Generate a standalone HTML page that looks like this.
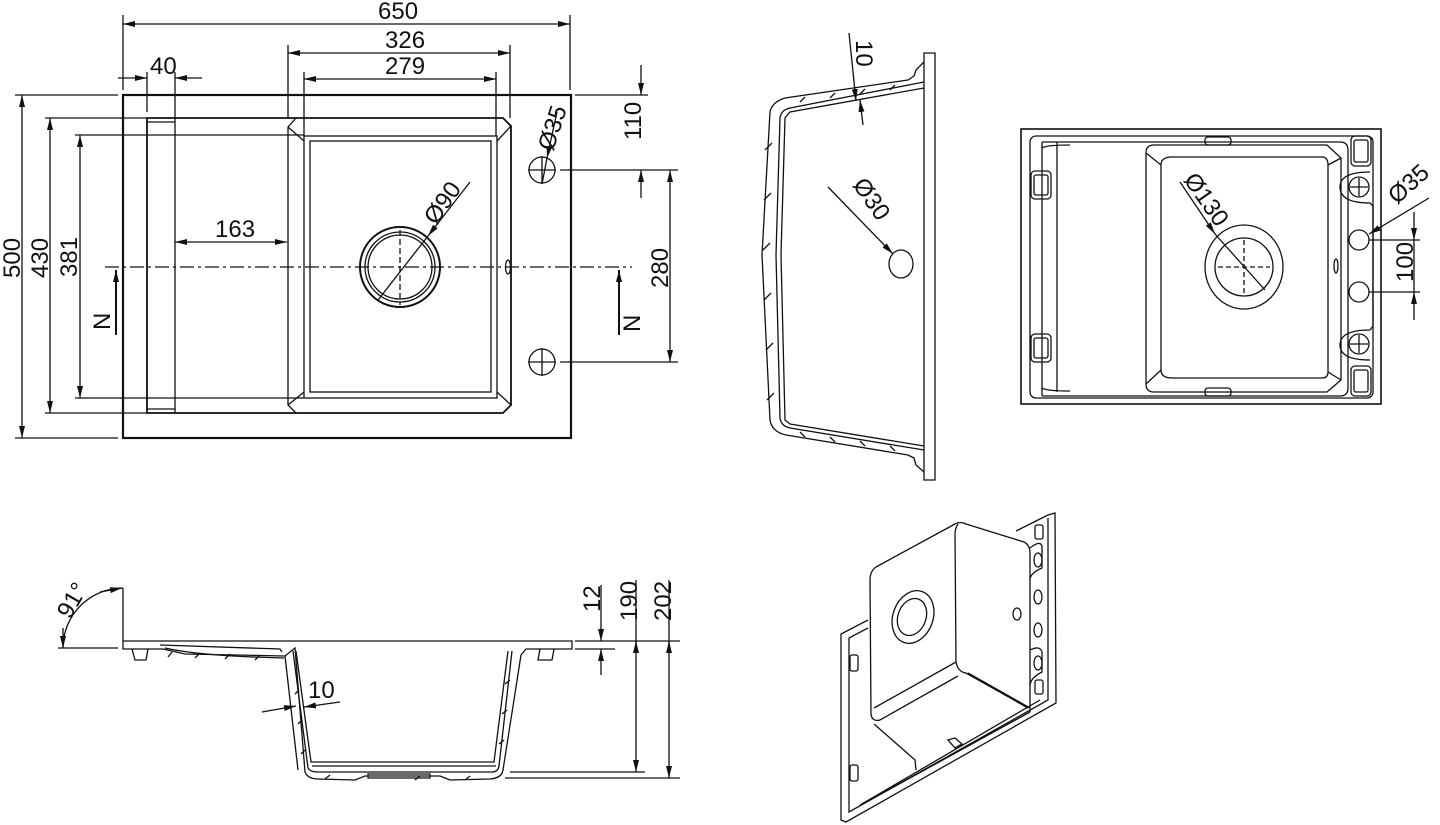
<!DOCTYPE html>
<html><head><meta charset="utf-8"><style>
html,body{margin:0;padding:0;background:#fff}
svg{display:block}
text{font-family:"Liberation Sans",Arial,sans-serif;font-size:24px;fill:#111}
</style></head><body>
<svg width="1440" height="825" viewBox="0 0 1440 825" xmlns="http://www.w3.org/2000/svg">
<defs>
<marker id="a" viewBox="0 0 12 6" refX="12" refY="3" markerWidth="12" markerHeight="6" orient="auto-start-reverse" markerUnits="userSpaceOnUse"><path d="M0,0 L12,3 L0,6 z" fill="#111"/></marker>
</defs>
<g fill="none" stroke="#111" stroke-width="1.3">
<!-- ========== TOP LEFT PLAN ========== -->
<rect x="123" y="95" width="448" height="343" stroke-width="2.2"/>
<path d="M147,118 H503 L511,126 V405 L503,413 H147 Z" stroke-width="1.8"/>
<line x1="175" y1="118" x2="175" y2="413"/>
<line x1="147" y1="122" x2="175" y2="122"/>
<line x1="147" y1="409" x2="175" y2="409"/>
<path d="M296,118 L288,127 V405 L296,413"/>
<path d="M288,127 L304,141 M503,118 L511,126 L497,141 M288,405 L304,392 M511,405 L497,392"/>
<rect x="304" y="136" width="193" height="262"/>
<rect x="310" y="141" width="181" height="251"/>
<circle cx="400" cy="267" r="40" stroke-width="2"/>
<circle cx="400" cy="267" r="35"/>
<circle cx="400" cy="267" r="32"/>
<ellipse cx="508" cy="267" rx="2.5" ry="7"/>
<line x1="105" y1="267" x2="632" y2="267" stroke-dasharray="14,4,3,4"/>
<line x1="400" y1="230" x2="400" y2="305" stroke-dasharray="6,3"/>
<circle cx="542" cy="170" r="13"/><circle cx="542" cy="362" r="13"/>
<path d="M528,170 H556 M542,156 V184 M528,362 H556 M542,348 V376"/>
<!-- dims -->
<path d="M123,15 V90 M570,15 V90 M288,45 V118 M510,45 V118 M304,72 V136 M496,72 V136 M147,72 V112 M175,72 V118"/>
<line x1="123" y1="24" x2="570" y2="24" marker-start="url(#a)" marker-end="url(#a)"/>
<line x1="288" y1="53" x2="510" y2="53" marker-start="url(#a)" marker-end="url(#a)"/>
<line x1="304" y1="79" x2="496" y2="79" marker-start="url(#a)" marker-end="url(#a)"/>
<line x1="118" y1="78" x2="147" y2="78" marker-end="url(#a)"/>
<line x1="202" y1="78" x2="175" y2="78" marker-end="url(#a)"/>
<path d="M15,95 H118 M45,118 H147 M75,135 H304 M15,438 H118 M45,413 H147 M75,398 H304"/>
<line x1="22" y1="95" x2="22" y2="438" marker-start="url(#a)" marker-end="url(#a)"/>
<line x1="50" y1="118" x2="50" y2="413" marker-start="url(#a)" marker-end="url(#a)"/>
<line x1="80" y1="135" x2="80" y2="398" marker-start="url(#a)" marker-end="url(#a)"/>
<line x1="175" y1="242" x2="287" y2="242" marker-start="url(#a)" marker-end="url(#a)"/>
<line x1="116" y1="335" x2="116" y2="270" marker-end="url(#a)" stroke-width="2"/>
<line x1="619" y1="335" x2="619" y2="270" marker-end="url(#a)" stroke-width="2"/>
<path d="M575,95 H648 M560,170 H678 M560,362 H678"/>
<line x1="641" y1="65" x2="641" y2="95" marker-end="url(#a)"/>
<line x1="641" y1="198" x2="641" y2="170" marker-end="url(#a)"/>
<line x1="670" y1="170" x2="670" y2="362" marker-start="url(#a)" marker-end="url(#a)"/>
<line x1="470" y1="182" x2="428" y2="236" marker-end="url(#a)"/>
<line x1="428" y1="236" x2="378" y2="300"/>
<line x1="557" y1="112" x2="547" y2="158" marker-end="url(#a)"/>
<line x1="547" y1="158" x2="542" y2="184"/>

<!-- ========== SIDE SECTION (top middle) ========== -->
<path d="M924,53 L935,53 L935,480 L924,480 Z"/>
<path d="M924,62 L916,70 L914,76 L908,80 L785,98 Q772,102 770,112 L762,255 L770,420 Q772,432 786,435 L908,455 L914,458 L916,465 L924,472"/>
<path d="M924,82 L790,108 Q781,110 780,118 L776,255 L780,418 Q781,426 790,428 L924,450"/>
<path d="M924,88 L790,112 L785,118 L781,255 L785,420 L790,424 L924,446"/>
<path d="M800,102 L805,97 M830,98 L835,93 M860,94 L865,89 M890,90 L895,85 M800,432 L805,437 M830,437 L835,442 M860,441 L865,446 M890,446 L895,451 M765,150 L772,143 M764,200 L771,193 M763,250 L770,243 M764,300 L771,293 M766,350 L773,343 M767,400 L774,393"/>
<ellipse cx="901" cy="264" rx="12" ry="14"/>
<line x1="828" y1="187" x2="893" y2="254" marker-end="url(#a)"/>
<line x1="849" y1="33" x2="856" y2="101" marker-end="url(#a)"/>
<line x1="863" y1="125" x2="860" y2="100" marker-end="url(#a)"/>

<!-- ========== TOP RIGHT PLAN ========== -->
<rect x="1021" y="129" width="360" height="275" stroke-width="1.6"/>
<rect x="1030" y="136" width="343" height="262" rx="6"/>
<path d="M1042,142 H1340 Q1348,142 1348,150 V388 Q1348,396 1340,396 H1042"/>
<path d="M1042,142 V396 M1057,142 V392 M1042,148 Q1046,145 1070,145 M1042,388 Q1046,391 1070,391"/>
<path d="M1154,145 H1327 L1341,158 V380 L1327,392 H1154 Q1146,392 1146,384 V153 Q1146,145 1154,145 Z"/>
<path d="M1172,157 H1322 Q1328,157 1328,165 V372 Q1328,378 1322,378 H1172 Q1161,378 1161,370 V165 Q1161,157 1172,157 Z"/>
<path d="M1146,153 L1161,165 M1341,158 L1328,165 M1146,384 L1161,370 M1341,380 L1328,372"/>
<ellipse cx="1244" cy="267" rx="39" ry="42"/>
<ellipse cx="1244" cy="267" rx="29" ry="29"/>
<path d="M1218,267 H1270 M1244,240 V295" stroke-dasharray="5,3"/>
<rect x="1205" y="137" width="26" height="8" rx="3"/><rect x="1205" y="388" width="26" height="8" rx="3"/>
<rect x="1031" y="171" width="20" height="28" rx="4"/><rect x="1034" y="175" width="14" height="20" rx="2"/>
<rect x="1031" y="334" width="20" height="28" rx="4"/><rect x="1034" y="338" width="14" height="20" rx="2"/>
<rect x="1351" y="136" width="20" height="30" rx="4"/><rect x="1354" y="140" width="14" height="22" rx="2"/>
<rect x="1351" y="366" width="20" height="30" rx="4"/><rect x="1354" y="370" width="14" height="22" rx="2"/>
<path d="M1370,172 Q1340,172 1340,187 Q1340,203 1370,203 L1373,206 V326 L1370,330 Q1340,330 1340,345 Q1340,360 1370,360"/>
<circle cx="1359" cy="187" r="10"/><circle cx="1359" cy="240" r="10"/><circle cx="1359" cy="292" r="10"/><circle cx="1359" cy="344" r="10"/>
<path d="M1350,187 H1368 M1359,178 V196 M1350,344 H1368 M1359,335 V353"/>
<ellipse cx="1336" cy="266" rx="2" ry="7"/>
<path d="M1369,240 H1420 M1369,292 H1420"/>
<line x1="1414" y1="212" x2="1414" y2="240" marker-end="url(#a)"/>
<line x1="1414" y1="320" x2="1414" y2="292" marker-end="url(#a)"/>
<line x1="1414" y1="240" x2="1414" y2="292"/>
<line x1="1429" y1="198" x2="1369" y2="234" marker-end="url(#a)"/>
<line x1="1180" y1="182" x2="1215" y2="234" marker-end="url(#a)"/>
<line x1="1215" y1="234" x2="1265" y2="290"/>

<!-- ========== BOTTOM SECTION ========== -->
<path d="M123,641 H572 V649 H526 L521,655 M123,641 V649 H163 M123,649 L163,649"/>
<path d="M163,649 L185,654 L285,656 L295,648 L305,772 Q308,779 318,779 L355,780 L365,776 H440 L450,780 L490,779 Q502,778 503,770 L521,655"/>
<path d="M160,645 L280,649 L282,652 M165,648 Q200,656 284,658 M285,656 L298,770"/>
<path d="M293,651 L308,768 Q310,772 318,772 H492 Q498,772 499,766 L512,651"/>
<path d="M296,651 L311,762 H494 L508,651"/>
<path d="M312,766 H496 M368,778 H430 V774 H368 Z"/>
<path d="M132,649 L135,660 L146,660 L148,649 M540,649 L538,660 L552,660 L554,649"/>
<path d="M172,652 L168,657 M200,653 L195,658 M230,654 L225,659 M260,655 L255,660 M299,690 L295,694 M302,720 L298,724 M305,750 L301,754 M510,680 L505,684 M507,710 L502,714 M504,740 L499,744 M330,775 L325,779 M420,776 L415,780 M470,776 L465,780"/>
<path d="M123,588 V641 M58,648 H118 M575,641 H680 M575,649 H615 M510,772 H645 M505,778 H680"/>
<path d="M123,588 A60,60 0 0 0 63,648"/>
<line x1="100" y1="592" x2="122" y2="588" marker-end="url(#a)"/>
<line x1="63" y1="628" x2="63" y2="648" marker-end="url(#a)"/>
<line x1="601" y1="585" x2="601" y2="641" marker-end="url(#a)"/>
<line x1="601" y1="675" x2="601" y2="649" marker-end="url(#a)"/>
<line x1="636" y1="580" x2="636" y2="772" marker-end="url(#a)"/>
<line x1="636" y1="641" x2="636" y2="652" marker-start="url(#a)"/>
<line x1="669" y1="580" x2="669" y2="778" marker-end="url(#a)"/>
<line x1="669" y1="641" x2="669" y2="652" marker-start="url(#a)"/>
<line x1="262" y1="712" x2="296" y2="706" marker-end="url(#a)"/>
<line x1="340" y1="702" x2="304" y2="707" marker-end="url(#a)"/>

<!-- ========== ISOMETRIC ========== -->
<path d="M1048,515 L1055,513 L1056,703 L846,822 L841,820 L841,634 L868,620"/>
<path d="M1048,518 L1048,700 L849,812 L849,638 L868,628"/>
<path d="M1016,531 L1048,515"/>
<path d="M876,567 Q870,571 870,580 L871,714 Q872,722 880,720 L958,676"/>
<path d="M876,567 L955,524 Q960,521 966,524 L1024,542 Q1030,545 1030,553 L1030,712"/>
<path d="M958,524 Q955,528 955,535 L956,662 Q958,672 966,673 L1028,708"/>
<path d="M956,662 L874,708 M968,673 L1030,708"/>
<path d="M874,724 L915,760 L916,770"/>
<path d="M1030,712 L870,800 M1040,700 L860,805"/>
<ellipse cx="913" cy="617" rx="20" ry="27" transform="rotate(20 913 617)"/>
<ellipse cx="912" cy="617" rx="14" ry="19" transform="rotate(20 912 617)"/>
<ellipse cx="1017" cy="614" rx="4" ry="6"/>
<path d="M1030,548 Q1040,540 1042,546 V568 Q1030,573 1030,580 M1030,650 Q1040,645 1042,652 V672 Q1030,678 1030,686"/>
<ellipse cx="1038" cy="560" rx="4" ry="7"/><ellipse cx="1038" cy="597" rx="4" ry="7"/><ellipse cx="1038" cy="630" rx="4" ry="7"/><ellipse cx="1038" cy="663" rx="4" ry="7"/>
<rect x="1035" y="525" width="8" height="14" rx="2"/><rect x="1035" y="680" width="8" height="14" rx="2"/>
<rect x="850" y="655" width="8" height="16" rx="2"/><rect x="850" y="765" width="8" height="16" rx="2"/>
<path d="M948,740 L955,738 L962,744 L955,748 Z"/>
</g>
<g>
<text x="378" y="19">650</text>
<text x="385" y="48">326</text>
<text x="385" y="74">279</text>
<text x="150" y="74">40</text>
<text x="215" y="237">163</text>
<text transform="translate(20,278) rotate(-90)">500</text>
<text transform="translate(48,278) rotate(-90)">430</text>
<text transform="translate(77,277) rotate(-90)">381</text>
<text transform="translate(110,330) rotate(-90)">N</text>
<text transform="translate(640,332) rotate(-90)">N</text>
<text transform="translate(641,140) rotate(-90)">110</text>
<text transform="translate(668,288) rotate(-90)">280</text>
<text transform="translate(436,226) rotate(-55)">Ø90</text>
<text transform="translate(553,152) rotate(-72)">Ø35</text>
<text transform="translate(856,40) rotate(90)">10</text>
<text transform="translate(852,185) rotate(55)">Ø30</text>
<text transform="translate(1183,180) rotate(55)">Ø130</text>
<text transform="translate(1397,205) rotate(-42)">Ø35</text>
<text transform="translate(1413,282) rotate(-90)">100</text>
<text transform="translate(70,620) rotate(-60)">91°</text>
<text transform="translate(600,612) rotate(-90)">12</text>
<text transform="translate(637,621) rotate(-90)">190</text>
<text transform="translate(671,621) rotate(-90)">202</text>
<text x="308" y="698">10</text>
</g>
</svg>
</body></html>
